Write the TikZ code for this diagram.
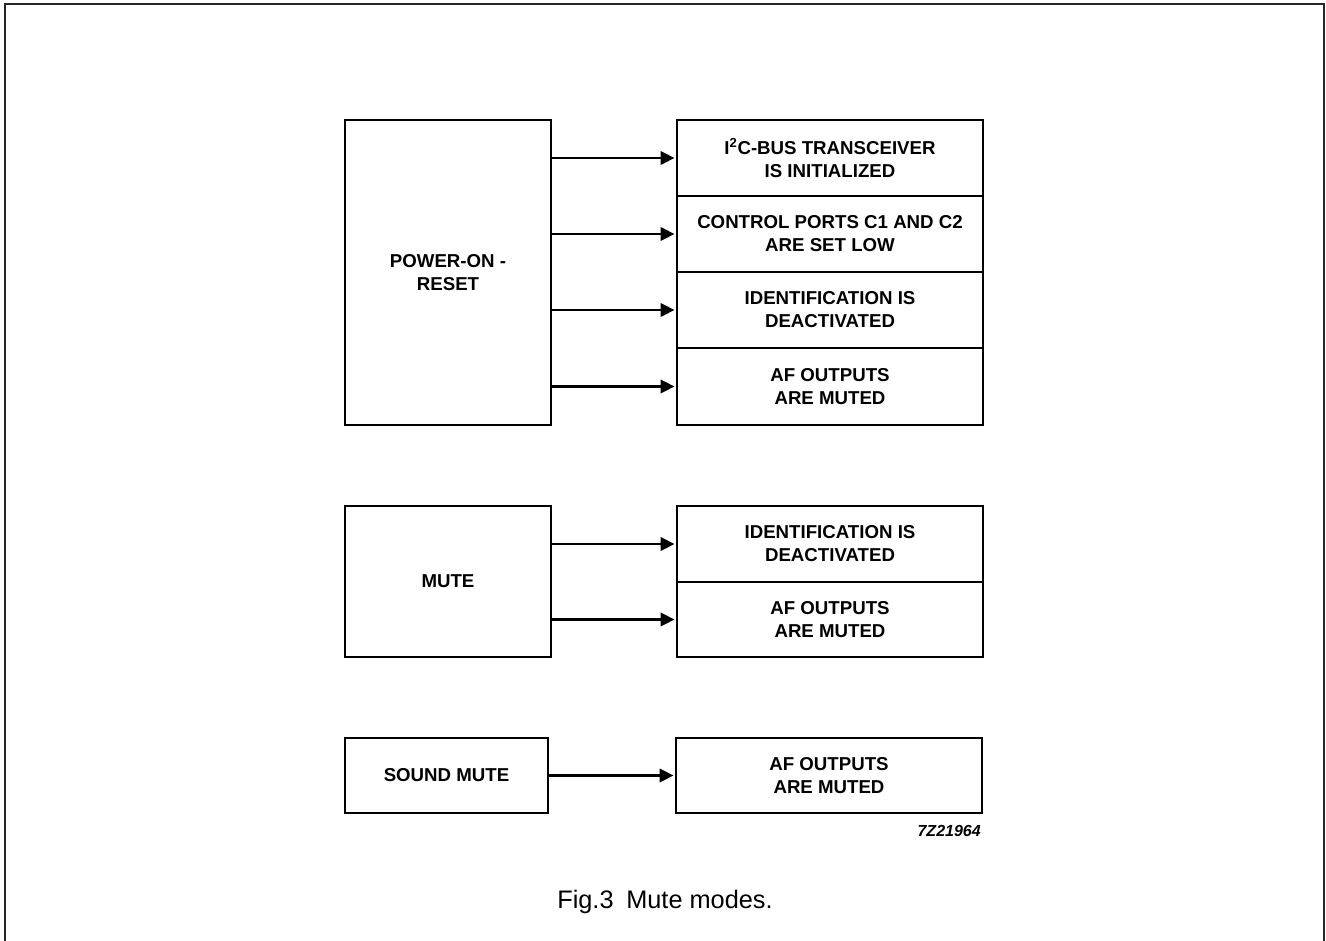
\documentclass[tikz,border=0pt]{standalone}
\usepackage{fontspec}
\setmainfont{Liberation Sans}
\usetikzlibrary{arrows.meta}
\begin{document}
\begin{tikzpicture}[x=0.75pt,y=-0.75pt,
  box/.style={draw,line width=2.1pt,rectangle,inner sep=0pt,align=center,
    font=\fontsize{14}{17.25}\selectfont\bfseries},
  arr/.style={line width=2.1pt,-{Triangle[length=10.5pt,width=10pt]},shorten >=0.8pt},
  frame/.style={draw,line width=1.5pt,black!85}]
\useasboundingbox (0,0) rectangle (1326,941);
\draw[frame] (5,4) rectangle (1324,950);
% Power-on reset group
\node[box,minimum width=154.5pt,minimum height=228.75pt] (por) at (448,272.5) {POWER-ON -\\RESET};
\node[box,minimum width=229.5pt,minimum height=57pt] (p1) at (830,158) {I\textsuperscript{2}C-BUS TRANSCEIVER\\IS INITIALIZED};
\node[box,minimum width=229.5pt,minimum height=57pt] (p2) at (830,234) {CONTROL PORTS C1 AND C2\\ARE SET LOW};
\node[box,minimum width=229.5pt,minimum height=57pt] (p3) at (830,310) {IDENTIFICATION IS\\DEACTIVATED};
\node[box,minimum width=229.5pt,minimum height=57.75pt] (p4) at (830,386.5) {AF OUTPUTS\\ARE MUTED};
\foreach \t in {p1,p2,p3,p4} \draw[arr] (por.east |- \t.west) -- (\t.west);
% Mute group
\node[box,minimum width=154.5pt,minimum height=113.25pt] (mute) at (448,581.5) {MUTE};
\node[box,minimum width=229.5pt,minimum height=57pt] (m1) at (830,544) {IDENTIFICATION IS\\DEACTIVATED};
\node[box,minimum width=229.5pt,minimum height=56.25pt] (m2) at (830,619.5) {AF OUTPUTS\\ARE MUTED};
\foreach \t in {m1,m2} \draw[arr] (mute.east |- \t.west) -- (\t.west);
% Sound mute group
\node[box,minimum width=152.25pt,minimum height=56.25pt] (smute) at (446.5,775.5) {SOUND MUTE};
\node[box,minimum width=229.5pt,minimum height=56.25pt] (s1) at (829,775.5) {AF OUTPUTS\\ARE MUTED};
\draw[arr] (smute.east) -- (s1.west);
% labels
\node[anchor=base east,inner sep=0pt,font=\fontsize{12}{14}\selectfont\bfseries\itshape] (code) at (981,836) {7Z21964};
\node[anchor=base,inner sep=0pt,font=\fontsize{19}{22}\selectfont] (cap) at (665,908) {Fig.3\hspace{0.5em}Mute modes.};
\end{tikzpicture}
\end{document}
